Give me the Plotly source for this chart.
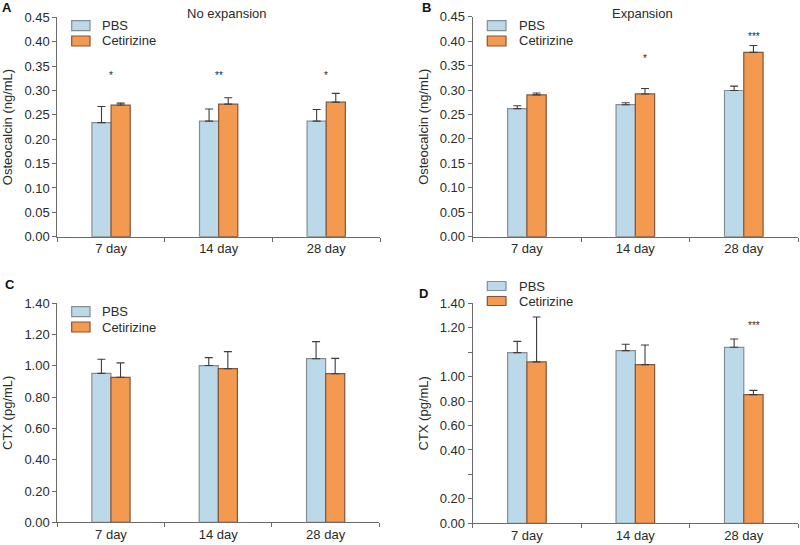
import numpy as np
import plotly.graph_objects as go

# ---------------- data ----------------
days = ["7 day", "14 day", "28 day"]
groups = ["PBS", "Cetirizine"]

# Panel A: Osteocalcin, no expansion
a_pbs = [0.234, 0.237, 0.237]
a_pbs_err = [0.033, 0.025, 0.024]
a_cet = [0.270, 0.272, 0.276]
a_cet_err = [0.004, 0.013, 0.018]
a_stars = ["*", "**", "*"]
a_star_y = [0.331, 0.331, 0.331]

# Panel B: Osteocalcin, expansion
b_pbs = [0.262, 0.270, 0.299]
b_pbs_err = [0.006, 0.004, 0.009]
b_cet = [0.290, 0.292, 0.377]
b_cet_err = [0.004, 0.011, 0.014]
b_stars = ["", "*", "***"]
b_star_y = [0.0, 0.3635, 0.4085]

# Panel C: CTX, no expansion
c_pbs = [0.952, 1.002, 1.046]
c_pbs_err = [0.090, 0.051, 0.109]
c_cet = [0.927, 0.982, 0.950]
c_cet_err = [0.092, 0.109, 0.098]

# Panel D: CTX, expansion
d_pbs = [1.086, 1.099, 1.120]
d_pbs_err = [0.072, 0.040, 0.053]
d_cet = [1.027, 1.010, 0.819]
d_cet_err = [0.286, 0.125, 0.027]
d_stars = ["", "", "***"]
d_star_y = [0.0, 0.0, 1.2575]

osteo_ticks = [0.00, 0.05, 0.10, 0.15, 0.20, 0.25, 0.30, 0.35, 0.40, 0.45]
ctx_ticks = [0.00, 0.20, 0.40, 0.60, 0.80, 1.00, 1.20, 1.40]
d_tick_labels = ["0.00", "0.20", "", "0.40", "0.60", "0.80", "1.00", "", "1.20", "1.40"]

# ---------------- style ----------------
W, H = 800, 545
FONT = "Liberation Sans, Arial, sans-serif"
PBS_FILL, PBS_LINE = "#bcd9ea", "#858d95"
CET_FILL, CET_LINE = "#f39a50", "#84553a"
AXIS = "#6a6a6a"
TXT = "#2b2b2b"
ERR = "#3c3c3c"
FILLS = {"PBS": (PBS_FILL, PBS_LINE), "Cetirizine": (CET_FILL, CET_LINE)}


def px_x(v):
    return v / W


def px_y(v):
    return 1 - v / H


panels = [
    dict(k="", x=(57.3, 380.0), y=(17.3, 236.7), pbs=a_pbs, pe=a_pbs_err, cet=a_cet, ce=a_cet_err,
         yr=0.45, title="Osteocalcin (ng/mL)", stars=a_stars, sy=a_star_y, sx=0,
         leg=dict(bx=(71.7, 90.0), text_x=100.0, cy=(25.7, 41.0), h=10.0)),
    dict(k="2", x=(472.7, 798.0), y=(16.7, 236.7), pbs=b_pbs, pe=b_pbs_err, cet=b_cet, ce=b_cet_err,
         yr=0.45, title="Osteocalcin (ng/mL)", stars=b_stars, sy=b_star_y, sx=10,
         leg=dict(bx=(487.3, 506.0), text_x=516.7, cy=(25.7, 41.0), h=10.0)),
    dict(k="3", x=(57.3, 379.3), y=(303.3, 522.3), pbs=c_pbs, pe=c_pbs_err, cet=c_cet, ce=c_cet_err,
         yr=1.40, title="CTX (pg/mL)", stars=None, sy=None, sx=0,
         leg=dict(bx=(71.7, 90.0), text_x=100.0, cy=(311.7, 327.0), h=10.0)),
    dict(k="4", x=(472.7, 798.0), y=(303.3, 523.3), pbs=d_pbs, pe=d_pbs_err, cet=d_cet, ce=d_cet_err,
         yr=1.40, title="CTX (pg/mL)", stars=d_stars, sy=d_star_y, sx=10,
         leg=dict(bx=(487.3, 506.0), text_x=516.7, cy=(286.0, 301.0), h=9.0)),
]

fig = go.Figure()
layout = dict(
    width=W, height=H, margin=dict(l=0, r=0, t=0, b=0),
    paper_bgcolor="white", plot_bgcolor="white",
    font=dict(family=FONT, size=13, color=TXT),
    barmode="group", bargap=0.644, bargroupgap=0.0,
    showlegend=False, template="none",
)
annotations = []
shapes = []

for i, p in enumerate(panels):
    k = p["k"]
    xa, ya = "x" + k, "y" + k
    for name, vals, errs in [("PBS", p["pbs"], p["pe"]), ("Cetirizine", p["cet"], p["ce"])]:
        fill, line = FILLS[name]
        fig.add_trace(go.Bar(
            x=days, y=vals, name=name, xaxis=xa, yaxis=ya,
            marker=dict(color=fill, line=dict(color=line, width=1.2)),
            error_y=dict(type="data", symmetric=False, array=errs, arrayminus=[0] * len(errs),
                         color=ERR, thickness=1.1, width=4),
        ))
    layout["xaxis" + k] = dict(
        domain=[px_x(p["x"][0]), px_x(p["x"][1])], anchor=ya,
        type="category", range=[-0.5, 2.5], showline=True, linecolor=AXIS, linewidth=1,
        ticks="outside", tickson="boundaries", ticklen=4, tickcolor=AXIS,
        showgrid=False, zeroline=False, tickfont=dict(size=13, color=TXT),
    )
    if k == "4":
        tv = list(np.linspace(0, p["yr"], len(d_tick_labels)))
        tt = d_tick_labels
    elif p["yr"] < 1:
        tv = osteo_ticks
        tt = [f"{v:.2f}" for v in osteo_ticks]
    else:
        tv = ctx_ticks
        tt = [f"{v:.2f}" for v in ctx_ticks]
    layout["yaxis" + k] = dict(
        domain=[px_y(p["y"][1]), px_y(p["y"][0])], anchor=xa,
        range=[0, p["yr"]], showline=True, linecolor=AXIS, linewidth=1,
        ticks="outside", ticklen=4, tickcolor=AXIS, tickmode="array",
        tickvals=tv, ticktext=tt, showgrid=False, zeroline=False,
        tickfont=dict(size=13, color=TXT),
        title=dict(text=p["title"], font=dict(size=13, color=TXT), standoff=8),
    )
    # legend (drawn as swatches + text)
    lg = p["leg"]
    for name, cy in zip(groups, lg["cy"]):
        fill, line = FILLS[name]
        shapes.append(dict(type="rect", xref="paper", yref="paper",
                           x0=px_x(lg["bx"][0]), x1=px_x(lg["bx"][1]),
                           y0=px_y(cy + lg["h"] / 2), y1=px_y(cy - lg["h"] / 2),
                           fillcolor=fill, line=dict(color=line, width=1.2)))
        annotations.append(dict(x=px_x(lg["text_x"]), y=px_y(cy), xref="paper", yref="paper",
                                text=name, showarrow=False, xanchor="left", yanchor="middle",
                                font=dict(size=13, color=TXT)))
    if p["stars"]:
        for d, s, sy in zip(days, p["stars"], p["sy"]):
            if s:
                annotations.append(dict(
                    x=d, y=sy, xref=xa, yref=ya, text=s, showarrow=False,
                    xshift=p["sx"], xanchor="center", yanchor="middle",
                    font=dict(size=10, color=TXT),
                ))

# titles
annotations.append(dict(x=px_x(226.6), y=px_y(13.3), xref="paper", yref="paper", text="No expansion",
                        showarrow=False, xanchor="center", yanchor="middle",
                        font=dict(size=13, color=TXT)))
annotations.append(dict(x=px_x(642.0), y=px_y(13.3), xref="paper", yref="paper", text="Expansion",
                        showarrow=False, xanchor="center", yanchor="middle",
                        font=dict(size=13, color=TXT)))
# panel letters
for letter, lx, ly in [("A", 0.0, 7.0), ("B", 419.5, 7.0), ("C", 2.5, 284.0), ("D", 416.5, 293.0)]:
    annotations.append(dict(x=px_x(lx), y=px_y(ly), xref="paper", yref="paper", text=f"<b>{letter}</b>",
                            showarrow=False, xanchor="left", yanchor="middle",
                            font=dict(size=13, color="#111")))

layout["annotations"] = annotations
layout["shapes"] = shapes
fig.update_layout(**layout)
fig.write_html("out.html", config={"displayModeBar": False},
               post_script="document.body.style.margin='0px';")
